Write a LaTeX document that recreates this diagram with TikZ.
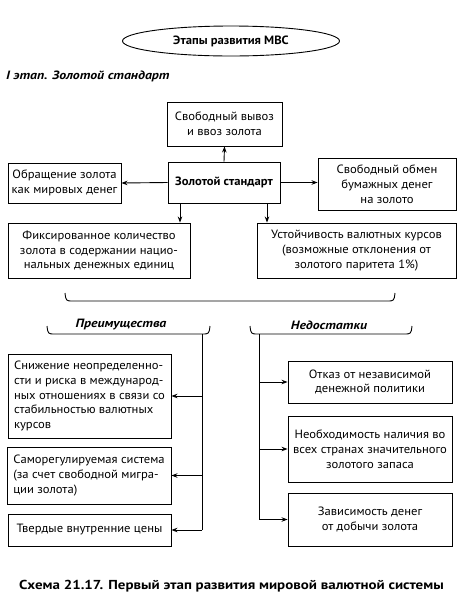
\documentclass[tikz,border=0pt]{standalone}
\usepackage{fontspec}
\setmainfont{PT Sans}[FakeStretch=1.05]
\newfontfamily\widefont{PT Sans}[FakeStretch=1.15]
\usetikzlibrary{shapes.geometric,arrows.meta,calc}
\begin{document}
\begin{tikzpicture}[x=1pt,y=-1pt,
  every node/.style={font=\fontsize{12}{14.8}\selectfont, inner sep=0pt},
  box/.style={draw, line width=0.9pt, align=center, anchor=center},
  lbox/.style={draw, line width=0.9pt, align=left, anchor=center},
  conn/.style={line width=0.9pt},
  arr/.style={line width=0.9pt, -{Stealth[length=6pt,width=4.5pt]}},
  brace/.style={line width=0.9pt},
  bi/.style={font=\widefont\fontsize{12}{14}\selectfont\bfseries\itshape}
]
\useasboundingbox (0,0) rectangle (464,598);
\fill[white] (0,0) rectangle (464,598);

\node[draw, ellipse, line width=0.9pt, minimum width=217pt, minimum height=30pt, font=\fontsize{12}{14}\selectfont\bfseries] (title) at (231,41) {Этапы развития МВС};
\node[anchor=west, bi] (stage) at (6,76) {I этап. Золотой стандарт};

\node[box, minimum width=115pt, minimum height=44pt] (vyvoz) at (224.5,124) {Свободный вывоз\\и ввоз золота};
\node[box, minimum width=112pt, minimum height=41pt, font=\fontsize{12}{14}\selectfont\bfseries] (gs) at (224,182.5) {Золотой стандарт};
\node[box, minimum width=113pt, minimum height=40pt] (obr) at (64.5,183) {Обращение золота\\как мировых денег};
\node[box, minimum width=138pt, minimum height=52pt] (obm) at (387,184) {Свободный обмен\\бумажных денег\\на золото};
\node[box, minimum width=182pt, minimum height=55pt] (fix) at (99,250.5) {Фиксированное количество\\золота в содержании нацио-\\нальных денежных единиц};
\node[box, minimum width=199pt, minimum height=55pt] (ust) at (356.5,250.5) {Устойчивость валютных курсов\\(возможные отклонения от\\золотого паритета 1\%)};

\draw[arr] (gs.north) -- (vyvoz.south);
\draw[arr] (gs.west) -- (obr.east);
\draw[arr] (gs.east) -- (obm.west |- gs.east);
\draw[arr] ([xshift=-44pt]gs.south) -- ([xshift=-44pt]gs.south |- fix.north);
\draw[arr] ([xshift=43pt]gs.south) -- ([xshift=43pt]gs.south |- ust.north);

% big brace
\draw[brace] (65,293) .. controls (66,301) .. (73,301) -- (387,301) .. controls (394,301) .. (395,293);

% small braces
\node[bi] (adv) at (121,325) {Преимущества};
\node[bi] (dis) at (329,325) {Недостатки};
\draw[brace] (47,326) .. controls (48,334) .. (55,334) -- (202,334) .. controls (209,334) .. (210,326);
\draw[brace] (250,326) .. controls (251,334) .. (258,334) -- (404,334) .. controls (411,334) .. (412,326);
\coordinate (pb) at (202,334);
\coordinate (nb) at (259,334);

\node[lbox, minimum width=163pt, minimum height=84pt] (b1) at (89.5,396) {Снижение неопределенно-\\сти и риска в международ-\\ных отношениях в связи со\\стабильностью валютных\\курсов};
\node[lbox, minimum width=164pt, minimum height=57pt] (b2) at (89,475.5) {Саморегулируемая система\\(за счет свободной мигра-\\ции золота)};
\node[box, minimum width=163pt, minimum height=32pt] (b3) at (89.5,530) {Твердые внутренние цены};

\node[box, minimum width=164pt, minimum height=42pt] (d1) at (370,382) {Отказ от независимой\\денежной политики};
\node[box, minimum width=164pt, minimum height=66pt] (d2) at (370,449) {Необходимость наличия во\\всех странах значительного\\золотого запаса};
\node[box, minimum width=164pt, minimum height=53pt] (d3) at (370,519.5) {Зависимость денег\\от добычи золота};

\draw[conn] (pb) -- (pb |- b3.east);
\draw[arr] (pb |- b1.east) -- (b1.east);
\draw[arr] (pb |- b2.east) -- (b2.east);
\draw[arr] (pb |- b3.east) -- (b3.east);

\draw[conn] (nb) -- (nb |- d3.west);
\draw[arr] (nb |- d1.west) -- (d1.west);
\draw[arr] (nb |- d2.west) -- (d2.west);
\draw[arr] (nb |- d3.west) -- (d3.west);

\node[font=\widefont\fontsize{13}{15}\selectfont\bfseries] (cap) at (231.5,586) {Схема 21.17. Первый этап развития мировой валютной системы};
\end{tikzpicture}
\end{document}
